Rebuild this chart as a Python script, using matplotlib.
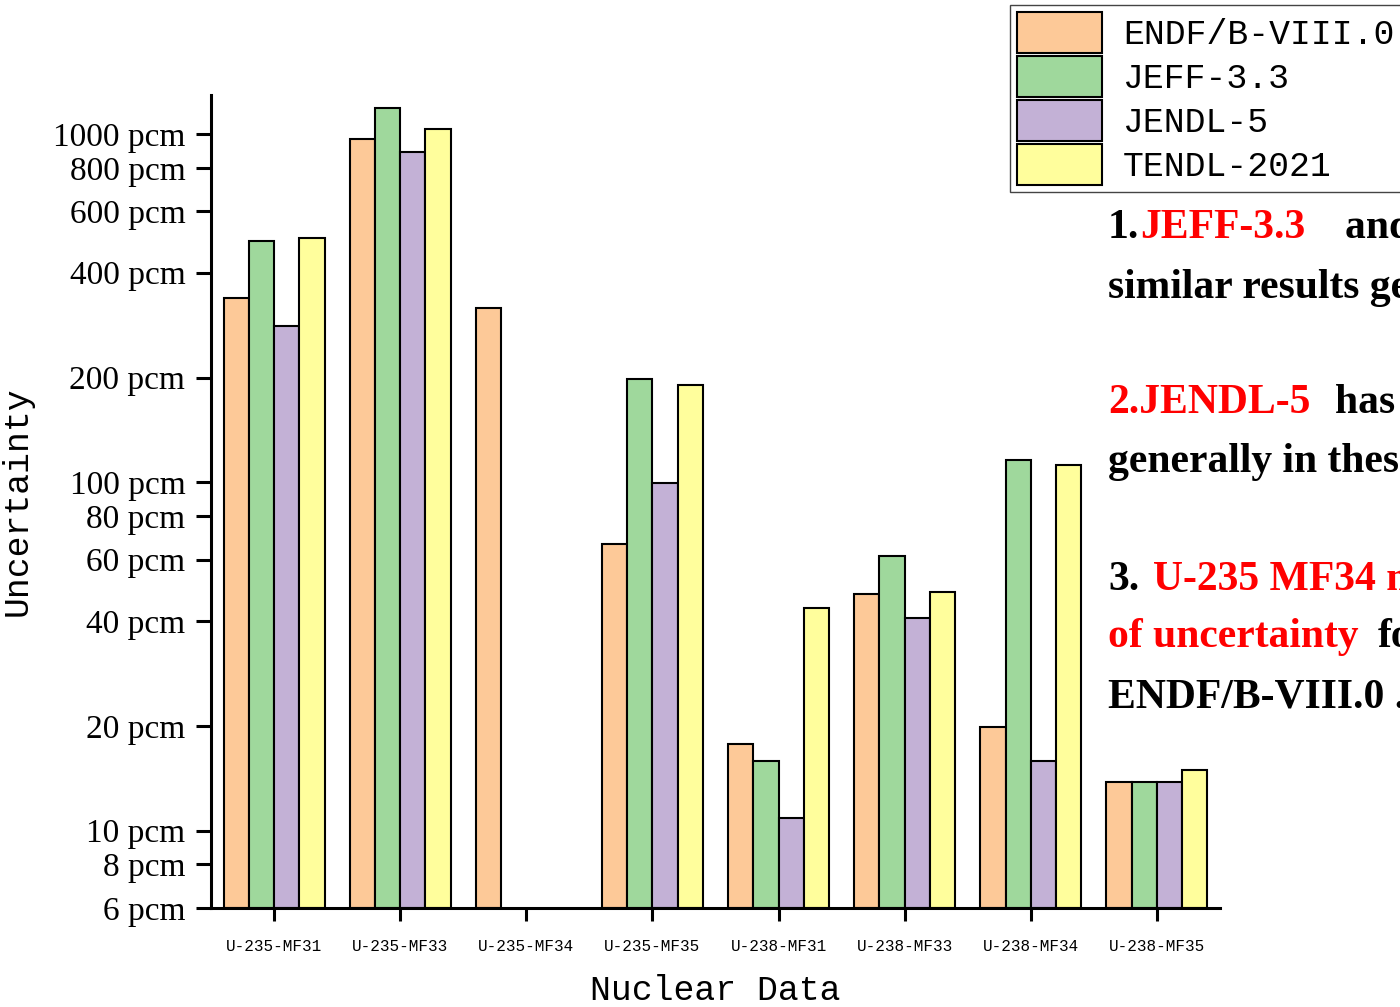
import matplotlib
matplotlib.use("Agg")
import matplotlib.pyplot as plt
import numpy as np
from matplotlib.ticker import FixedLocator, FixedFormatter, NullLocator

categories = ["U-235-MF31", "U-235-MF33", "U-235-MF34", "U-235-MF35",
              "U-238-MF31", "U-238-MF33", "U-238-MF34", "U-238-MF35"]
series_names = ["ENDF/B-VIII.0", "JEFF-3.3", "JENDL-5", "TENDL-2021"]
endf = [338, 967, 316, 66.4, 17.8, 47.7, 19.8, 13.8]
jeff = [493, 1188, np.nan, 198, 15.9, 61.3, 115.6, 13.8]
jendl = [281, 888, np.nan, 99.4, 10.9, 40.7, 15.9, 13.8]
tendl = [503, 1034, np.nan, 191, 43.7, 48.6, 111.9, 14.9]
colors = ["#FDC998", "#9FD89C", "#C3B1D6", "#FFFE9C"]
ytick_vals = [6, 8, 10, 20, 40, 60, 80, 100, 200, 400, 600, 800, 1000]
ytick_labels = [f"{v} pcm" for v in ytick_vals]

SERIF = ["Liberation Serif", "DejaVu Serif"]
MONO = ["Liberation Mono", "DejaVu Sans Mono"]

W, H = 1400, 1007
fig = plt.figure(figsize=(W / 100, H / 100), dpi=100)
ax = fig.add_axes([211 / W, 1 - 908 / H, (1220 - 211) / W, (908 - 95) / H])

x = np.arange(len(categories))
width = 0.2
data = [endf, jeff, jendl, tendl]
bottom = 6
for i, (vals, c, name) in enumerate(zip(data, colors, series_names)):
    v = np.array(vals, dtype=float)
    ax.bar(x + (i - 1.5) * width, v - bottom, bottom=bottom, width=width,
           color=c, edgecolor="black", linewidth=1.5, label=name)

ax.set_yscale("log")
ax.set_ylim(6, 1295)
ax.set_xlim(-0.5, 7.5)
ax.yaxis.set_major_locator(FixedLocator(ytick_vals))
ax.yaxis.set_major_formatter(FixedFormatter(ytick_labels))
ax.yaxis.set_minor_locator(NullLocator())
ax.set_xticks(x)
ax.set_xticklabels(categories, fontfamily=MONO, fontsize=11.5)
for lab in ax.get_yticklabels():
    lab.set_fontfamily(SERIF)
    lab.set_fontsize(24)

for s in ["top", "right"]:
    ax.spines[s].set_visible(False)
for s in ["left", "bottom"]:
    ax.spines[s].set_linewidth(2.2)
ax.tick_params(axis="y", direction="out", length=10.5, width=2.2, pad=8)
ax.tick_params(axis="x", direction="out", length=9.5, width=2.2, pad=13)

ax.set_xlabel("Nuclear Data", fontfamily=MONO, fontsize=25, labelpad=14)
ax.set_ylabel("Uncertainty", fontfamily=MONO, fontsize=25, labelpad=14)

leg = fig.legend(loc="upper left", bbox_to_anchor=(1010 / W, 1 - 5 / H),
                 bbox_transform=fig.transFigure,
                 prop={"family": MONO, "size": 25},
                 frameon=True, fancybox=False, edgecolor="#444444",
                 framealpha=1, borderpad=0.2, borderaxespad=0,
                 handlelength=2.45, handleheight=1.42, handletextpad=0.6,
                 labelspacing=0.1)
leg.get_frame().set_linewidth(1.0)

def t(px, py, s, color="black"):
    fig.text(px / W, 1 - py / H, s, color=color, fontfamily=SERIF,
             fontweight="bold", fontsize=30, va="baseline", ha="left")

RED = "#FF0000"
t(1108, 238, "1.")
t(1140, 238, "JEFF-3.3", RED)
t(1345, 238, "and TENDL-2021 have")
t(1108, 298, "similar results generally.")
t(1108, 413, "2.JENDL-5", RED)
t(1335, 413, "has lower uncertainty")
t(1108, 472, "generally in these data.")
t(1108, 590, "3.")
t(1153, 590, "U-235 MF34 makes up a lot", RED)
t(1108, 647, "of uncertainty", RED)
t(1378, 647, "for")
t(1108, 707, "ENDF/B-VIII.0 .")

fig.savefig("out.png", dpi=100)
